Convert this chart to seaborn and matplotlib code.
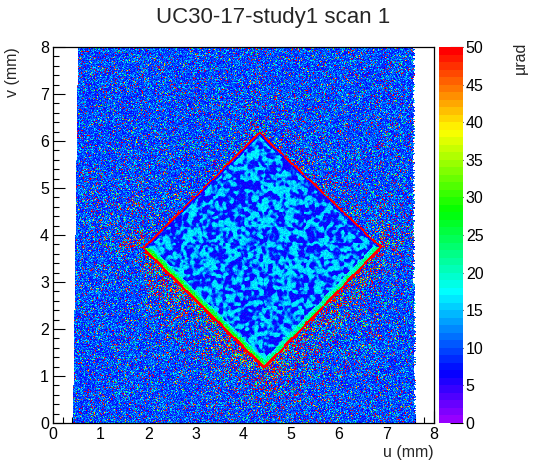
"""
UC30-17-study1 scan 1: deflection map (u, v) in micro-radians, ROOT-like look.
"""

import colorsys

import matplotlib

matplotlib.use("Agg")
import matplotlib.pyplot as plt
import numpy as np
import seaborn as sns
from matplotlib.colors import ListedColormap

TITLE = "UC30-17-study1 scan 1"
X_LABEL = "u (mm)"
Y_LABEL = "v (mm)"
Z_LABEL = "µrad"

# binning of the scan (mm)
AXIS_MAX = 8.0
BIN_MM = 0.02
MAJOR_TICKS = [0, 1, 2, 3, 4, 5, 6, 7, 8]
CBAR_TICKS = [0, 5, 10, 15, 20, 25, 30, 35, 40, 45, 50]
Z_MAX = 50
N_COLORS = 50

# scanned area: left / right border of the data at v = 0 and v = 8
EDGE_V = [0.0, 8.0]
LEFT_EDGE_U = [0.42, 0.52]
RIGHT_EDGE_U = [7.60, 7.57]

# diamond corners: left, top, right, bottom
DIAMOND_U = [1.93, 4.33, 6.85, 4.43]
DIAMOND_V = [3.72, 6.15, 3.74, 1.21]

# per edge: upper-left, upper-right, lower-right, lower-left
RIM_WIDTH = [0.035, 0.04, 0.05, 0.055]      # red rim just outside the edge
BAND_LEVEL = [6.5, 7.0, 24.0, 32.0]         # band level right at the edge
BAND_WIDTH = [0.04, 0.04, 0.10, 0.12]
HALO_RATE = [0.14, 0.16, 0.38, 0.42]        # share of hot cells next to edge
HALO_REACH = [0.30, 0.35, 0.45, 0.50]       # mm

# levels (µrad)
BG_LEVEL = 9.8
BG_SPREAD = 0.30
BG_HOT_RATE = 0.075
INNER_LEVEL = 11.5
INNER_SPREAD = 5.0
HOT_LOW = [20.0, 46.0]
HOT_HIGH = [52.0, 120.0]
HOT_HIGH_SHARE = 0.6
SEED = 1730


def root_palette(n):
    cols = []
    for i in range(n):
        h = 0.765 * (1.0 - i / (n - 1))
        cols.append(colorsys.hsv_to_rgb(h, 1.0, 1.0))
    return ListedColormap(cols)


def smooth(field, sigma):
    ny, nx = field.shape
    ky = np.fft.fftfreq(ny)[:, None]
    kx = np.fft.fftfreq(nx)[None, :]
    kern = np.exp(-2 * (np.pi * sigma) ** 2 * (kx ** 2 + ky ** 2))
    out = np.real(np.fft.ifft2(np.fft.fft2(field) * kern))
    return out / out.std()


def build_map():
    rng = np.random.default_rng(SEED)
    n = int(round(AXIS_MAX / BIN_MM))
    centres = (np.arange(n) + 0.5) * BIN_MM
    uu, vv = np.meshgrid(centres, centres[::-1])  # row 0 = top (v = 8)

    # signed distance to each edge, positive inside the diamond
    dist = []
    for i in range(4):
        a = np.array([DIAMOND_U[i], DIAMOND_V[i]])
        b = np.array([DIAMOND_U[(i + 1) % 4], DIAMOND_V[(i + 1) % 4]])
        d = b - a
        nrm = np.array([d[1], -d[0]]) / np.hypot(*d)
        dist.append((uu - a[0]) * nrm[0] + (vv - a[1]) * nrm[1])
    dist = np.array(dist)
    inside = (dist > 0).all(axis=0)
    nearest = np.argmin(np.abs(dist), axis=0)
    dnear = np.take_along_axis(dist, nearest[None], 0)[0]

    rim_w = np.array(RIM_WIDTH)[nearest]
    band_w = np.array(BAND_WIDTH)[nearest]
    band_lv = np.array(BAND_LEVEL)[nearest]
    halo_rate = np.array(HALO_RATE)[nearest]
    halo_reach = np.array(HALO_REACH)[nearest]

    # background cells
    z = BG_LEVEL * np.exp(BG_SPREAD * rng.standard_normal(uu.shape))
    out_dist = np.clip(-np.min(dist, axis=0), 0, None)
    p_hot = BG_HOT_RATE + halo_rate * np.exp(-out_dist / halo_reach)
    hot = rng.random(uu.shape) < p_hot
    high = rng.random(uu.shape) < HOT_HIGH_SHARE
    hot_val = np.where(high,
                       rng.uniform(*HOT_HIGH, uu.shape),
                       rng.uniform(*HOT_LOW, uu.shape))
    z = np.where(hot, hot_val, z)

    # inside: blobby, two-toned texture
    field = smooth(rng.standard_normal(uu.shape), 1.4)
    blob = INNER_LEVEL + INNER_SPREAD * np.tanh(1.6 * field)
    blob += 1.0 * rng.standard_normal(uu.shape)
    frac = np.clip(dnear / band_w, 0, 1)
    band = band_lv - (band_lv - 17.0) * frac * (band_lv > 15)
    band = band + 2.5 * rng.standard_normal(uu.shape)
    inner = np.where(dnear < band_w, band, blob)
    z = np.where(inside, inner, z)

    # red rim around the diamond
    rim = (~inside) & (out_dist < rim_w)
    z = np.where(rim, 65.0, z)

    z = np.clip(z, 5.2, None)

    # scanned area only
    left = np.interp(vv, EDGE_V, LEFT_EDGE_U)
    right = np.interp(vv, EDGE_V, RIGHT_EDGE_U)
    right = right + rng.integers(-1, 2, (n, 1)) * BIN_MM
    z = np.where((uu >= left) & (uu <= right), z, np.nan)
    return z, n


def main() -> None:
    sns.set_theme(style="white")
    plt.rcParams["font.family"] = ["Liberation Sans", "DejaVu Sans"]

    z, n = build_map()
    fig = plt.figure(figsize=(5.46, 4.72), dpi=100)
    W, H = 546, 472
    ax = fig.add_axes([53 / W, 49 / H, 381 / W, 376 / H])
    cax = fig.add_axes([439 / W, 49 / H, 24 / W, 376 / H])

    sns.heatmap(z, ax=ax, cbar_ax=cax, cmap=root_palette(N_COLORS),
                vmin=0, vmax=Z_MAX, xticklabels=False, yticklabels=False)

    per_mm = 1.0 / BIN_MM
    ax.set_xticks([t * per_mm for t in MAJOR_TICKS])
    ax.set_xticklabels([str(t) for t in MAJOR_TICKS])
    ax.set_yticks([(AXIS_MAX - t) * per_mm for t in MAJOR_TICKS])
    ax.set_yticklabels([str(t) for t in MAJOR_TICKS])
    minor = np.arange(0, AXIS_MAX + 1e-9, 0.2)
    ax.set_xticks(minor * per_mm, minor=True)
    ax.set_yticks((AXIS_MAX - minor) * per_mm, minor=True)
    ax.set_xlim(0, n)
    ax.set_ylim(n, 0)
    ax.tick_params(which="both", direction="in", bottom=True, left=True,
                   top=False, right=False, colors="black", labelsize=11.5)
    ax.tick_params(which="major", length=8.6, width=0.8, pad=3)
    ax.tick_params(which="minor", length=4.3, width=0.8)
    for s in ax.spines.values():
        s.set_visible(True)
        s.set_color("black")
        s.set_linewidth(0.9)

    cbar = ax.collections[0].colorbar
    cbar.outline.set_visible(False)
    cbar.set_ticks(CBAR_TICKS)
    cax.tick_params(direction="in", length=9.4, width=0.8, right=True,
                    colors="black", labelsize=11.5, pad=2)

    fig.text(273 / W, 1 - 18 / H, TITLE, ha="center", va="center", fontsize=16)
    fig.text(434 / W, 1 - 452 / H, X_LABEL, ha="right", va="center", fontsize=11.5)
    fig.text(13 / W, 1 - 47 / H, Y_LABEL, ha="center", va="top",
             rotation=90, fontsize=11.5)
    fig.text(520 / W, 1 - 42 / H, Z_LABEL, ha="center", va="top",
             rotation=90, fontsize=11.5)

    fig.savefig("out.png", dpi=100)
    plt.close(fig)


if __name__ == "__main__":
    main()
